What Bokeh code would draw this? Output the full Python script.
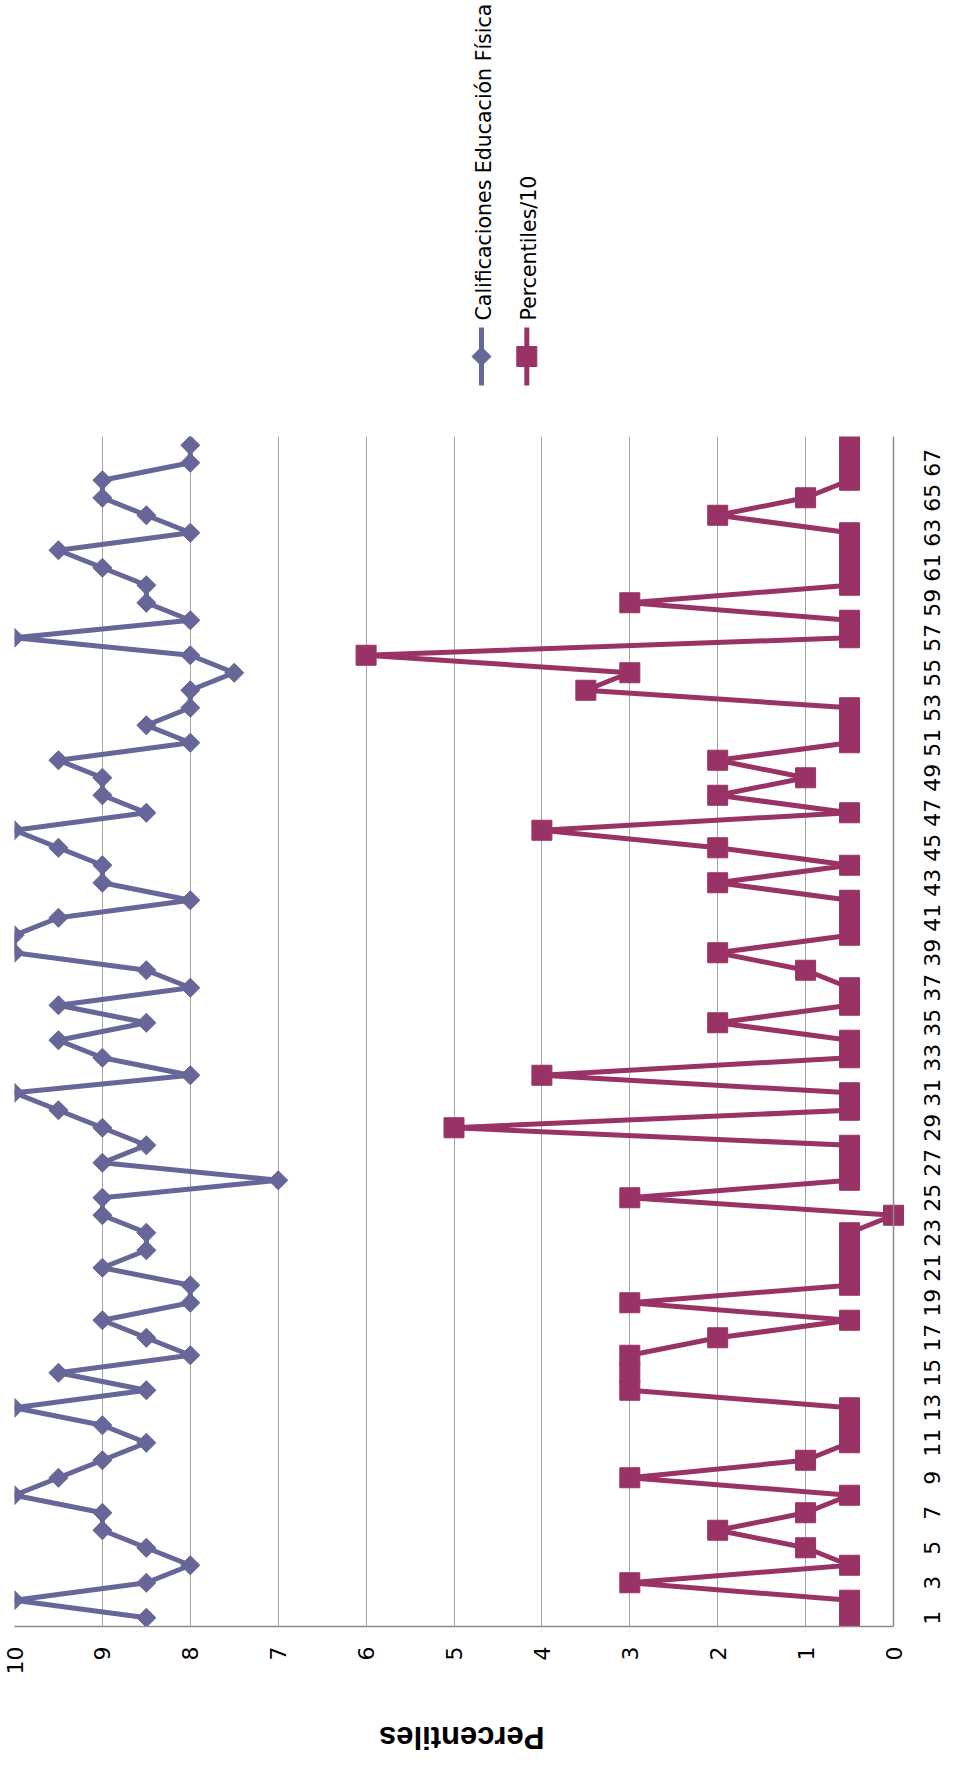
import math
from bokeh.plotting import figure
from bokeh.models import Range1d, FixedTicker, Span, ColumnDataSource
from bokeh.layouts import column
from bokeh.embed import file_html
from bokeh.resources import INLINE
from bokeh.core.properties import value

# ---- data ----
categories = list(range(1, 69))
calificaciones = [8.5, 10, 8.5, 8, 8.5, 9, 9, 10, 9.5, 9,
                  8.5, 9, 10, 8.5, 9.5, 8, 8.5, 9, 8, 8,
                  9, 8.5, 8.5, 9, 9, 7, 9, 8.5, 9, 9.5,
                  10, 8, 9, 9.5, 8.5, 9.5, 8, 8.5, 10, 10,
                  9.5, 8, 9, 9, 9.5, 10, 8.5, 9, 9, 9.5,
                  8, 8.5, 8, 8, 7.5, 8, 10, 8, 8.5, 8.5,
                  9, 9.5, 8, 8.5, 9, 9, 8, 8]
percentiles10 = [0.5, 0.5, 3, 0.5, 1, 2, 1, 0.5, 3, 1,
                 0.5, 0.5, 0.5, 3, 3, 3, 2, 0.5, 3, 0.5,
                 0.5, 0.5, 0.5, 0, 3, 0.5, 0.5, 0.5, 5, 0.5,
                 0.5, 4, 0.5, 0.5, 2, 0.5, 0.5, 1, 2, 0.5,
                 0.5, 0.5, 2, 0.5, 2, 4, 0.5, 2, 1, 2,
                 0.5, 0.5, 0.5, 3.5, 3, 6, 0.5, 0.5, 3, 0.5,
                 0.5, 0.5, 0.5, 2, 1, 0.5, 0.5, 0.5]
value_ticks = list(range(0, 11))
category_ticks = categories[::2]
category_labels = [str(c) for c in category_ticks]
series_names = ["Calificaciones Educación Física", "Percentiles/10"]
axis_title = "Percentiles"

BLUE = "#666699"
RED = "#993366"
GRID = "#a6a6a6"
AXIS = "#8c8c8c"
FONT = "DejaVu Sans"
TICK_FS = "22px"

# ---- geometry (pixels) ----
W = 946
LEG_H = 436
FRAME_H = 1190
BOTTOM = 62
MAIN_H = FRAME_H + BOTTOM
TITLE_H = 1761 - LEG_H - MAIN_H
LEFT = 14
FRAME_W = W - LEFT
VALUE_SPAN_PX = 879
px_per_unit = VALUE_SPAN_PX / 10.0
x_end = -(FRAME_W - VALUE_SPAN_PX) / px_per_unit
label_x = -38 / px_per_unit


def blank(h):
    f = figure(width=W, height=h, x_range=Range1d(0, W), y_range=Range1d(h, 0),
               x_axis_type=None, y_axis_type=None,
               output_backend="svg", toolbar_location=None, min_border=0)
    f.grid.visible = False
    f.outline_line_color = None
    return f


# ---- legend figure (top area) ----
leg = blank(LEG_H)
lx = [474, 520]
tx = [477, 522]
for i, (name, col) in enumerate(zip(series_names, [BLUE, RED])):
    leg.line(x=[lx[i], lx[i]], y=[327, 385], line_color=col, line_width=5)
    if i == 0:
        leg.scatter(x=[lx[i]], y=[356], marker="square", angle=math.pi / 4, size=13.5,
                    fill_color=col, line_color=col)
    else:
        leg.scatter(x=[lx[i]], y=[356], marker="square", size=20,
                    fill_color=col, line_color=col)
    leg.text(x=[tx[i]], y=[320], text=[name], angle=math.pi / 2,
             text_align="left", text_baseline="middle",
             text_font=value(FONT), text_font_size="20.5px", text_color="black")

# ---- main figure ----
p = figure(width=W, height=MAIN_H, x_range=Range1d(10, x_end), y_range=Range1d(0.5, 68.5),
           y_axis_location=None, output_backend="svg", toolbar_location=None,
           min_border_left=LEFT, min_border_right=0, min_border_top=0,
           min_border_bottom=BOTTOM)
p.outline_line_color = None
p.background_fill_color = "white"
p.ygrid.visible = False

p.xaxis.ticker = FixedTicker(ticks=value_ticks)
p.xaxis.bounds = (0, 10)
p.xgrid.grid_line_color = GRID
p.xgrid.grid_line_width = 1
p.add_layout(Span(location=0, dimension="height", line_color=AXIS, line_width=1.5))

ax = p.xaxis[0]
ax.major_label_orientation = math.pi / 2
ax.major_tick_out = 0
ax.major_tick_in = 0
ax.minor_tick_out = 0
ax.minor_tick_in = 0
ax.axis_line_color = AXIS
ax.axis_line_width = 1.5
ax.major_label_text_font = FONT
ax.major_label_text_font_size = TICK_FS
ax.major_label_text_color = "black"
ax.major_label_standoff = 20

src = ColumnDataSource(dict(cat=categories, cal=calificaciones, per=percentiles10))
p.line(x="cal", y="cat", source=src, line_color=BLUE, line_width=5)
p.scatter(x="cal", y="cat", source=src, marker="square", angle=math.pi / 4, size=13.5,
          fill_color=BLUE, line_color=BLUE)
p.line(x="per", y="cat", source=src, line_color=RED, line_width=5)
p.scatter(x="per", y="cat", source=src, marker="square", size=20,
          fill_color=RED, line_color=RED)

# category tick labels (right side, reading upward)
p.text(x=[label_x] * len(category_ticks), y=category_ticks, text=category_labels,
       angle=math.pi / 2, text_align="center", text_baseline="middle",
       text_font=value(FONT), text_font_size=TICK_FS, text_color="black")

# ---- title figure (bottom, upside down) ----
tf = blank(TITLE_H)
tf.text(x=[454], y=[49], text=[axis_title], angle=math.pi,
        text_align="center", text_baseline="middle",
        text_font=value("Liberation Sans"), text_font_style="bold",
        text_font_size="31px", text_color="black")

layout = column(leg, p, tf, spacing=0)
open("out.html", "w").write(file_html(layout, INLINE))
